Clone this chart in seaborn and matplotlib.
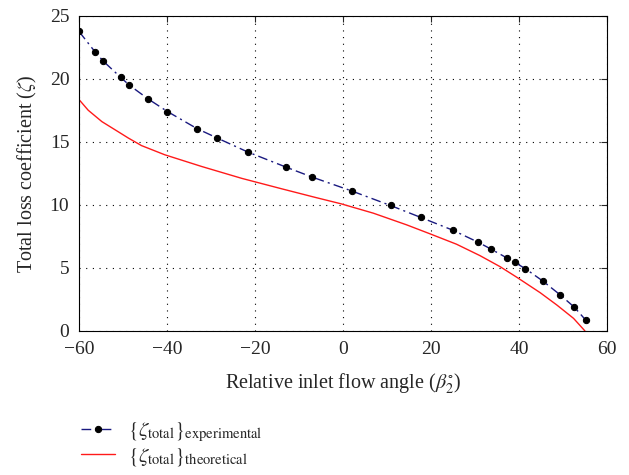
import matplotlib
matplotlib.use("Agg")
import matplotlib.pyplot as plt
import seaborn as sns
import pandas as pd

# experimental points
ang_exp = [-60, -56.4, -54.5, -50.5, -48.6, -44.3, -39.9, -33.2, -28.6, -21.7,
           -13.0, -7.0, 2.0, 10.8, 17.7, 24.9, 30.7, 33.6, 37.2, 39.0,
           41.4, 45.5, 49.3, 52.6, 55.2]
zeta_exp = [23.75, 22.15, 21.4, 20.1, 19.5, 18.4, 17.4, 16.05, 15.3, 14.2,
            13.0, 12.2, 11.1, 9.95, 9.0, 8.0, 7.04, 6.5, 5.8, 5.45,
            4.95, 3.94, 2.88, 1.88, 0.85]

# theoretical curve
ang_th = [-60, -57.9, -54.8, -51.1, -48.8, -45.8, -40.5, -32.1, -23.0, -13.9, -6.4, -0.4,
          6.9, 14.5, 19.8, 25.8, 31.1, 35.7, 39.5, 44.8, 48.6, 52.4, 55.0]
zeta_th = [18.35, 17.5, 16.6, 15.8, 15.3, 14.7, 13.97, 13.04, 12.1, 11.27, 10.6, 10.08,
           9.34, 8.41, 7.7, 6.88, 5.98, 5.1, 4.26, 3.04, 2.06, 1.0, 0.0]

df_exp = pd.DataFrame({"ang": ang_exp, "zeta": zeta_exp})
df_th = pd.DataFrame({"ang": ang_th, "zeta": zeta_th})

sns.set_style("white")
plt.rcParams["font.family"] = ["Liberation Serif", "DejaVu Serif"]
plt.rcParams["mathtext.fontset"] = "stix"

fig = plt.figure(figsize=(6.29, 4.75), dpi=100)
ax = fig.add_axes([0.1256, 0.3032, 0.8394, 0.6638])

sns.lineplot(data=df_exp, x="ang", y="zeta", ax=ax, sort=False, color="#1a1a80",
             linewidth=1.0, linestyle=(0, (7, 3, 1.5, 3)), marker="o", markersize=4.5,
             markerfacecolor="black", markeredgecolor="black",
             label=r"$\{\zeta_{\mathrm{total}}\}_{\mathrm{experimental}}$")
sns.lineplot(data=df_th, x="ang", y="zeta", ax=ax, sort=False, color="#ff1a1a",
             linewidth=1.0, label=r"$\{\zeta_{\mathrm{total}}\}_{\mathrm{theoretical}}$")

ax.set_xlim(-60, 60)
ax.set_ylim(0, 25)
ax.set_xticks(range(-60, 61, 20))
ax.set_yticks(range(0, 26, 5))
ax.grid(True, linestyle=(0, (1, 5)), color="black", linewidth=0.8)
ax.tick_params(direction="in", top=True, right=True, labelsize=14, length=4, pad=7)
for s in ax.spines.values():
    s.set_color("black")
    s.set_linewidth(0.8)

ax.set_xlabel(r"Relative inlet flow angle ($\beta_2^{\circ}$)", fontsize=14.5, labelpad=10)
ax.set_ylabel(r"Total loss coefficient ($\zeta$)", fontsize=14.5, labelpad=8)

ax.legend(loc="upper left", bbox_to_anchor=(0.116, 0.132),
          bbox_transform=fig.transFigure, frameon=False, fontsize=15,
          handlelength=1.63, handletextpad=0.62, labelspacing=0.1, borderaxespad=0)

fig.savefig("out.png", dpi=100)
